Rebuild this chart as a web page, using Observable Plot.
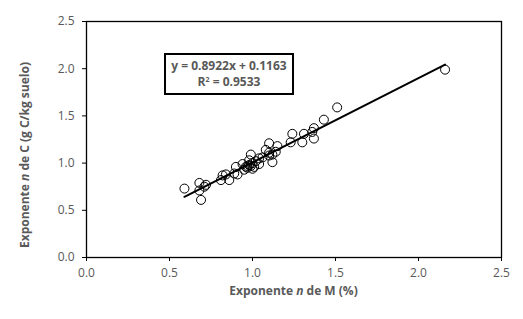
<!DOCTYPE html>
<html>
<head>
<meta charset="utf-8">
<script src="https://cdn.jsdelivr.net/npm/d3@7"></script>
<script src="https://cdn.jsdelivr.net/npm/@observablehq/plot@0.6"></script>
<style>
  html, body { margin: 0; padding: 0; background: #fff; }
  #chart { width: 523px; height: 319px; }
  svg text { font-family: "Open Sans", sans-serif; }
</style>
</head>
<body>
<div id="chart"></div>
<script>
// Data
const xM = [0.59, 0.68, 0.68, 0.69, 0.72, 0.71, 0.81, 0.82, 0.84, 0.86, 0.90, 0.91, 0.94, 0.96, 0.97, 0.98, 0.99, 1.00, 0.99, 1.00, 1.01, 1.04, 1.04, 1.08, 1.10, 1.10, 1.12, 1.14, 1.15, 1.10, 1.12, 1.23, 1.24, 1.30, 1.31, 1.37, 1.36, 1.37, 1.43, 1.51, 2.16, 0.97, 1.02, 1.06, 0.95, 0.89, 0.98];
const yC = [0.73, 0.79, 0.71, 0.61, 0.77, 0.75, 0.82, 0.87, 0.88, 0.82, 0.96, 0.88, 0.99, 0.96, 0.95, 1.03, 1.09, 0.94, 0.97, 1.00, 0.96, 0.99, 1.05, 1.14, 1.21, 1.11, 1.01, 1.12, 1.18, 1.08, 1.09, 1.22, 1.31, 1.22, 1.31, 1.37, 1.33, 1.26, 1.46, 1.59, 1.99, 0.97, 1.02, 1.06, 0.93, 0.89, 0.98];
const slope = 0.8922;
const intercept = 0.1163;
const r2 = 0.9533;
const ticks = [0.0, 0.5, 1.0, 1.5, 2.0, 2.5];

const points = xM.map((x, i) => ({x, y: yC[i]}));
const xExt = d3.extent(xM);
const fit = xExt.map(x => ({x, y: slope * x + intercept}));

const W = 523, H = 319;
const mL = 86, mR = 22, mT = 21, mB = 62;

const plot = Plot.plot({
  width: W, height: H,
  marginLeft: mL, marginRight: mR, marginTop: mT, marginBottom: mB,
  style: {fontFamily: "Open Sans, sans-serif", fontSize: "12px", color: "#000", background: "#fff"},
  x: {domain: [0, 2.5], ticks: ticks, tickFormat: d3.format(".1f"), label: null, tickSize: 4, tickPadding: 7},
  y: {domain: [0, 2.5], ticks: ticks, tickFormat: d3.format(".1f"), label: null, tickSize: 4, tickPadding: 8},
  marks: [
    Plot.dot(points, {x: "x", y: "y", r: 4.5, stroke: "#000", strokeWidth: 1, fill: "none"}),
    Plot.line(fit, {x: "x", y: "y", stroke: "#000", strokeWidth: 2}),
    Plot.frame({stroke: "#000", strokeWidth: 1.3})
  ]
});

d3.select(plot).selectAll("[aria-label='x-axis tick label'], [aria-label='y-axis tick label']")
  .attr("fill", "#595959");

const svg = d3.select(plot);
// x axis title
const xt = svg.append("text")
  .attr("x", (mL + (W - mR)) / 2).attr("y", 295)
  .attr("text-anchor", "middle").attr("fill", "#595959")
  .attr("font-weight", "bold").attr("font-size", "12px");
xt.append("tspan").text("Exponente ");
xt.append("tspan").attr("font-style", "italic").text("n");
xt.append("tspan").text(" de M (%)");

// y axis title
const yt = svg.append("text")
  .attr("transform", "translate(29,155) rotate(-90)")
  .attr("text-anchor", "middle").attr("fill", "#595959")
  .attr("font-weight", "bold").attr("font-size", "12px");
yt.append("tspan").text("Exponente ");
yt.append("tspan").attr("font-style", "italic").text("n");
yt.append("tspan").text(" de C (g C/kg suelo)");

// equation box
svg.append("rect")
  .attr("x", 165).attr("y", 54).attr("width", 128).attr("height", 40)
  .attr("fill", "#fff").attr("stroke", "#000").attr("stroke-width", 2);
svg.append("text")
  .attr("x", 229).attr("y", 70).attr("text-anchor", "middle")
  .attr("fill", "#595959").attr("font-weight", "bold").attr("font-size", "12px")
  .text(`y = ${slope}x + ${intercept}`);
const rt = svg.append("text")
  .attr("x", 229).attr("y", 86).attr("text-anchor", "middle")
  .attr("fill", "#595959").attr("font-weight", "bold").attr("font-size", "12px");
rt.append("tspan").text("R");
rt.append("tspan").attr("baseline-shift", "super").attr("font-size", "7px").text("2");
rt.append("tspan").text(` = ${r2}`);

document.getElementById("chart").appendChild(plot);
</script>
</body>
</html>
